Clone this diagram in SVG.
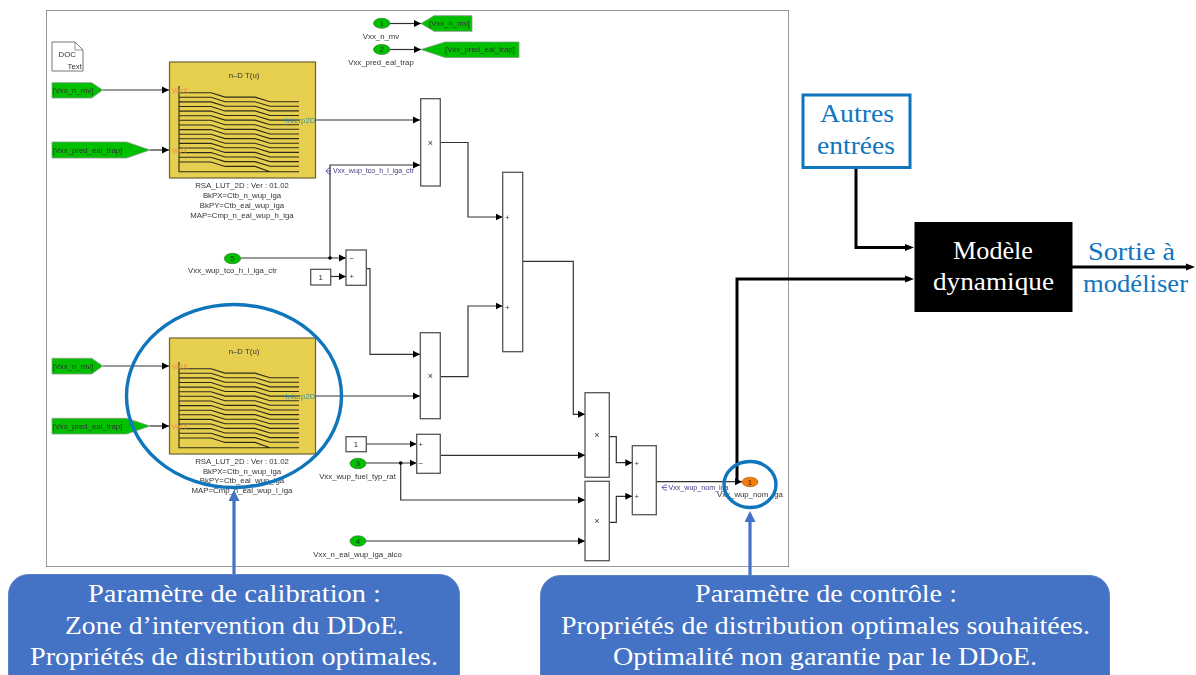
<svg xmlns="http://www.w3.org/2000/svg" xmlns:xlink="http://www.w3.org/1999/xlink" width="1196" height="675" viewBox="0 0 1196 675">
<style>
.s{font-family:"Liberation Sans",Arial,sans-serif;font-size:7.800px;fill:#333}
.m{text-anchor:middle}
.sn{font-family:"Liberation Sans",Arial,sans-serif;font-size:7.400px;fill:#3f3a80}
.o{font-family:"Liberation Sans",Arial,sans-serif;font-size:7.800px;fill:#f08a50}
.t{font-family:"Liberation Sans",Arial,sans-serif;font-size:7.800px;fill:#3f8fa0}
.n{font-family:"Liberation Serif","Times New Roman",serif;font-size:25.500px}
.w{fill:#fff}.b{fill:#0f75bd}
.blk{fill:#fff;stroke:#555;stroke-width:1.300}
.tag{fill:#00c000;stroke:#8a9a8a;stroke-width:.8}
.ov{fill:#00c000;stroke:#2a7a2a;stroke-width:.7}
.lut{fill:#e6cf50;stroke:#6a6330;stroke-width:1.200}
.c{fill:none;stroke:#333;stroke-width:1.200}
.k{fill:none;stroke:#000;stroke-width:3}
.bl{fill:none;stroke:#4472c4;stroke-width:3.200}
.ring{fill:none;stroke:#0f75bd;stroke-width:3.400}
.callout{fill:#4472c4;stroke:#5a82c8;stroke-width:1}
</style>
<defs>
<marker id="a" markerUnits="userSpaceOnUse" markerWidth="8" markerHeight="8" refX="7" refY="4" orient="auto"><path d="M0 .5L7 4L0 7.500z" fill="#000"/></marker>
<marker id="ak" markerUnits="userSpaceOnUse" markerWidth="9" markerHeight="8" refX="5" refY="4" orient="auto"><path d="M0 .5L9 4L0 7.500z" fill="#000"/></marker>
<marker id="ab" markerUnits="userSpaceOnUse" markerWidth="12" markerHeight="11" refX="8" refY="5.500" orient="auto"><path d="M0 0L11 5.500L0 11z" fill="#4472c4"/></marker>
<filter id="soft" x="0" y="0" width="100%" height="100%"><feGaussianBlur stdDeviation="0.35"/></filter>
<g id="curves">
<path fill="none" stroke="#2e2a18" stroke-width="1.100" d="M179 86V171.700H299M179 92.700h32l14 4.400h30l15 4.600h29M179 97.300h32l14 4.400h30l15 4.600h29M179 101.900h32l14 4.400h30l15 4.600h29M179 106.500h32l14 4.400h30l15 4.600h29M179 111.100h32l14 4.400h30l15 4.600h29M179 115.700h32l14 4.400h30l15 4.600h29M179 120.300h32l14 4.400h30l15 4.600h29M179 125h32l14 4.400h30l15 4.600h29M179 129.600h32l14 4.400h30l15 4.600h29M179 134.200h32l14 4.400h30l15 4.600h29M179 138.800h32l14 4.400h30l15 4.600h29M179 143.400h32l14 4.400h30l15 4.600h29M179 148h32l14 4.400h30l15 4.600h29M179 152.600h32l14 4.400h30l15 4.600h29M179 157.200h32l14 4.400h30l15 4.600h29M179 162h32l14 4.400h30l15 5.300"/>
</g>
</defs>
<rect width="1196" height="675" fill="#fff"/>

<g filter="url(#soft)">
<rect id="frame" x="46" y="10" width="743" height="557" fill="#fff" stroke="#666" stroke-width="1.300"/>

<g id="connectors">
<path class="c" marker-end="url(#a)" d="M390 23.500H421"/>
<path class="c" marker-end="url(#a)" d="M390 49.500H421"/>
<path class="c" marker-end="url(#a)" d="M103 90H169"/>
<path class="c" marker-end="url(#a)" d="M150 150H169"/>
<path class="c" marker-end="url(#a)" d="M103 366H169"/>
<path class="c" marker-end="url(#a)" d="M150 426H169"/>
<path class="c" marker-end="url(#a)" d="M315.500 120H420"/>
<path class="c" marker-end="url(#a)" d="M315.500 396H420"/>
<path class="c" marker-end="url(#a)" d="M241 258H346"/>
<path class="c" marker-end="url(#a)" d="M330 258V165H420"/>
<path class="c" marker-end="url(#a)" d="M331 276.500H346"/>
<path class="c" marker-end="url(#a)" d="M366 268.700H370V354.300H420"/>
<path class="c" marker-end="url(#a)" d="M440 142.500H468V217H502.500"/>
<path class="c" marker-end="url(#a)" d="M440 376.700H468V306H502.500"/>
<path class="c" marker-end="url(#a)" d="M522.500 261.300H573.300V414.300H585"/>
<path class="c" marker-end="url(#a)" d="M366 444H416.500"/>
<path class="c" marker-end="url(#a)" d="M366 463H416.500"/>
<path class="c" marker-end="url(#a)" d="M400.700 463V500H585"/>
<path class="c" marker-end="url(#a)" d="M440 455.300H585"/>
<path class="c" marker-end="url(#a)" d="M366 541H585"/>
<path class="c" marker-end="url(#a)" d="M609 436.700H616.300V462.700H632.300"/>
<path class="c" marker-end="url(#a)" d="M609 522.300H616.300V496.300H632.300"/>
<path class="c" marker-end="url(#a)" d="M656 481.700H742"/>
<circle cx="330" cy="258" r="1.800" fill="#000"/>
<circle cx="400.700" cy="463" r="1.800" fill="#000"/>
</g>

<g id="doc"><path d="M52 42H75L83 50V71H52Z" fill="#fff" stroke="#777"/><path d="M75 42V50H83" fill="none" stroke="#777" stroke-width=".8"/><text class="s" x="58.500" y="57">DOC</text><text class="s" x="67.500" y="68.500">Text</text></g>

<g id="in1"><ellipse class="ov" cx="381.700" cy="23.300" rx="8.200" ry="5"/><text class="s m" x="381.700" y="26" style="fill:#123a12">1</text><text class="s m" x="381" y="38.500">Vxx_n_mv</text></g>
<g id="in2"><ellipse class="ov" cx="381.700" cy="49.500" rx="8.200" ry="5"/><text class="s m" x="381.700" y="52" style="fill:#123a12">2</text><text class="s m" x="381" y="64.500">Vxx_pred_eal_trap</text></g>
<g id="goto1"><path class="tag" d="M421 23.500L434 15.700H472V31.300H434Z"/><text class="s" x="429" y="25.500">[Vxx_n_mv]</text></g>
<g id="goto2"><path class="tag" d="M421 49.500L445 42H519V57.500H445Z"/><text class="s" x="445" y="51.500">[Vxx_pred_eal_trap]</text></g>

<g id="from1"><path class="tag" d="M52 82.700H91.700L102.700 90L91.700 98H52Z"/><text class="s" x="52.500" y="92.500">[Vxx_n_mv]</text></g>
<g id="from2"><path class="tag" d="M52 142H126.700L150 150L126.700 158H52Z"/><text class="s" x="52.500" y="152.500">[Vxx_pred_eal_trap]</text></g>
<g id="from3"><path class="tag" d="M52 358.300H91.700L102.700 366L91.700 374H52Z"/><text class="s" x="52.500" y="368.500">[Vxx_n_mv]</text></g>
<g id="from4"><path class="tag" d="M52 418.300H126.700L150 426L126.700 434H52Z"/><text class="s" x="52.500" y="428.500">[Vxx_pred_eal_trap]</text></g>

<g id="lut1"><rect class="lut" x="169.500" y="62" width="146" height="116"/><text class="s m" x="244" y="78">n–D T(u)</text><use xlink:href="#curves" href="#curves"/><text class="o" x="171.500" y="92.700">VarX</text><text class="o" x="171.500" y="153">VarY</text><text class="t" x="285.500" y="122.700">Interp2D</text></g>
<g id="lut1-label"><text class="s m" x="242" y="188">RSA_LUT_2D : Ver : 01.02</text><text class="s m" x="242" y="198">BkPX=Ctb_n_wup_iga</text><text class="s m" x="242" y="207.500">BkPY=Ctb_eal_wup_iga</text><text class="s m" x="242" y="217.500">MAP=Cmp_n_eal_wup_h_iga</text></g>
<g id="lut2"><rect class="lut" x="169.500" y="338" width="146" height="116"/><text class="s m" x="244" y="354">n–D T(u)</text><use xlink:href="#curves" href="#curves" transform="translate(0 276)"/><text class="o" x="171.500" y="368.700">VarX</text><text class="o" x="171.500" y="429">VarY</text><text class="t" x="285.500" y="398.700">Interp2D</text></g>
<g id="lut2-label"><text class="s m" x="242" y="463.500">RSA_LUT_2D : Ver : 01.02</text><text class="s m" x="242" y="473.500">BkPX=Ctb_n_wup_iga</text><text class="s m" x="242" y="483">BkPY=Ctb_eal_wup_iga</text><text class="s m" x="242" y="493">MAP=Cmp_n_eal_wup_l_iga</text></g>

<g id="prod1"><rect class="blk" x="420.700" y="98.700" width="19.600" height="87.300"/><text class="s m" x="430.500" y="145.500" style="font-size:9px">×</text></g>
<g id="lbl-tco"><path d="M331 168.200H328.500L326 171L328.500 173.800H331M326 171H331" fill="none" stroke="#4a3fa0" stroke-width=".8"/><text class="sn" x="333" y="173" textLength="81" lengthAdjust="spacingAndGlyphs">Vxx_wup_tco_h_l_iga_ctr</text></g>
<g id="in5"><ellipse class="ov" cx="232.500" cy="258.500" rx="8.200" ry="5.200"/><text class="s m" x="232.500" y="261" style="fill:#123a12">5</text><text class="s m" x="232.500" y="273">Vxx_wup_tco_h_l_iga_ctr</text></g>
<g id="const1"><rect class="blk" x="310.700" y="269.300" width="20" height="15.700"/><text class="s m" x="320.700" y="280">1</text></g>
<g id="sub1"><rect class="blk" x="346" y="250" width="20.300" height="35.300"/><text class="s" x="349.500" y="260.500">−</text><text class="s" x="349.500" y="279.200">+</text></g>
<g id="sum1"><rect class="blk" x="502.700" y="172.300" width="20" height="179.400"/><text class="s" x="505" y="219.700">+</text><text class="s" x="505" y="309.500">+</text></g>
<g id="prod2"><rect class="blk" x="420.300" y="332.700" width="20" height="86"/><text class="s m" x="430.300" y="378.500" style="font-size:9px">×</text></g>
<g id="const2"><rect class="blk" x="346" y="436.700" width="20.300" height="15"/><text class="s m" x="356" y="447">1</text></g>
<g id="sub2"><rect class="blk" x="416.700" y="434.300" width="23.600" height="39"/><text class="s" x="418.500" y="446.700">+</text><text class="s" x="418.500" y="465.700">−</text></g>
<g id="in3"><ellipse class="ov" cx="358" cy="463.500" rx="8" ry="5.200"/><text class="s m" x="358" y="466" style="fill:#123a12">3</text><text class="s m" x="357.500" y="478.500">Vxx_wup_fuel_typ_rat</text></g>
<g id="in4"><ellipse class="ov" cx="358" cy="541" rx="8" ry="5.200"/><text class="s m" x="358" y="543.500" style="fill:#123a12">4</text><text class="s m" x="357.500" y="556.500">Vxx_n_eal_wup_iga_alco</text></g>
<g id="prod3"><rect class="blk" x="585" y="392.700" width="24.300" height="84.600"/><text class="s m" x="597" y="438" style="font-size:9px">×</text></g>
<g id="prod4"><rect class="blk" x="585" y="481.300" width="24.300" height="79.400"/><text class="s m" x="597" y="524" style="font-size:9px">×</text></g>
<g id="sum2"><rect class="blk" x="632.300" y="445.700" width="24" height="69"/><text class="s" x="634.500" y="465.500">+</text><text class="s" x="634.500" y="499">+</text></g>
<g id="lbl-nom"><path d="M667 485H664.500L662 487.500L664.500 490H667M662 487.500H667" fill="none" stroke="#4a3fa0" stroke-width=".8"/><text class="sn" x="668.500" y="490" textLength="60" lengthAdjust="spacingAndGlyphs">Vxx_wup_nom_iga</text></g>
<g id="out1"><ellipse cx="750" cy="482" rx="8" ry="4.800" fill="#f47d10" stroke="#a05a10" stroke-width=".6"/><text class="s m" x="750" y="484.500" style="fill:#402000">1</text><text class="s m" x="750" y="496.700">Vxx_wup_nom_iga</text></g>
</g>

<g id="overlay-connectors">
<path class="k" marker-end="url(#ak)" d="M737 480V279H910"/>
<path class="k" marker-end="url(#ak)" d="M856 167V247.500H910"/>
<path class="k" marker-end="url(#ak)" d="M1072 267H1191"/>
<path class="bl" marker-end="url(#ab)" d="M234 575V493"/>
<path class="bl" marker-end="url(#ab)" d="M750 576V514"/>
</g>
<ellipse id="ring-calibration" class="ring" cx="234" cy="396" rx="107.500" ry="91.500"/>
<ellipse id="ring-control" class="ring" cx="750" cy="484.500" rx="26" ry="23"/>

<g id="autres"><rect x="803" y="95" width="107" height="72.500" fill="#fff" stroke="#0f75bd" stroke-width="3"/><text class="n b" x="820" y="122" textLength="74" lengthAdjust="spacingAndGlyphs">Autres</text><text class="n b" x="817" y="154" textLength="78" lengthAdjust="spacingAndGlyphs">entrées</text></g>
<g id="modele"><rect x="914.500" y="222" width="158" height="90" fill="#000"/><text class="n w" x="953" y="259" textLength="80" lengthAdjust="spacingAndGlyphs">Modèle</text><text class="n w" x="933" y="290" textLength="121" lengthAdjust="spacingAndGlyphs">dynamique</text></g>
<g id="sortie"><text class="n b" x="1088" y="260" textLength="87" lengthAdjust="spacingAndGlyphs">Sortie à</text><text class="n b" x="1083" y="292" textLength="105" lengthAdjust="spacingAndGlyphs">modéliser</text></g>

<g id="callout-calibration"><rect class="callout" x="8.500" y="574.500" width="451" height="120" rx="20"/><text class="n w" x="88" y="601.500" textLength="293" lengthAdjust="spacingAndGlyphs">Paramètre de calibration :</text><text class="n w" x="65" y="633.500" textLength="339" lengthAdjust="spacingAndGlyphs">Zone d’intervention du DDoE.</text><text class="n w" x="30" y="664.500" textLength="408" lengthAdjust="spacingAndGlyphs">Propriétés de distribution optimales.</text></g>
<g id="callout-controle"><rect class="callout" x="540.500" y="575.500" width="569" height="120" rx="20"/><text class="n w" x="695" y="601.500" textLength="262" lengthAdjust="spacingAndGlyphs">Paramètre de contrôle :</text><text class="n w" x="561" y="633.500" textLength="529" lengthAdjust="spacingAndGlyphs">Propriétés de distribution optimales souhaitées.</text><text class="n w" x="613" y="664.500" textLength="424" lengthAdjust="spacingAndGlyphs">Optimalité non garantie par le DDoE.</text></g>
</svg>
